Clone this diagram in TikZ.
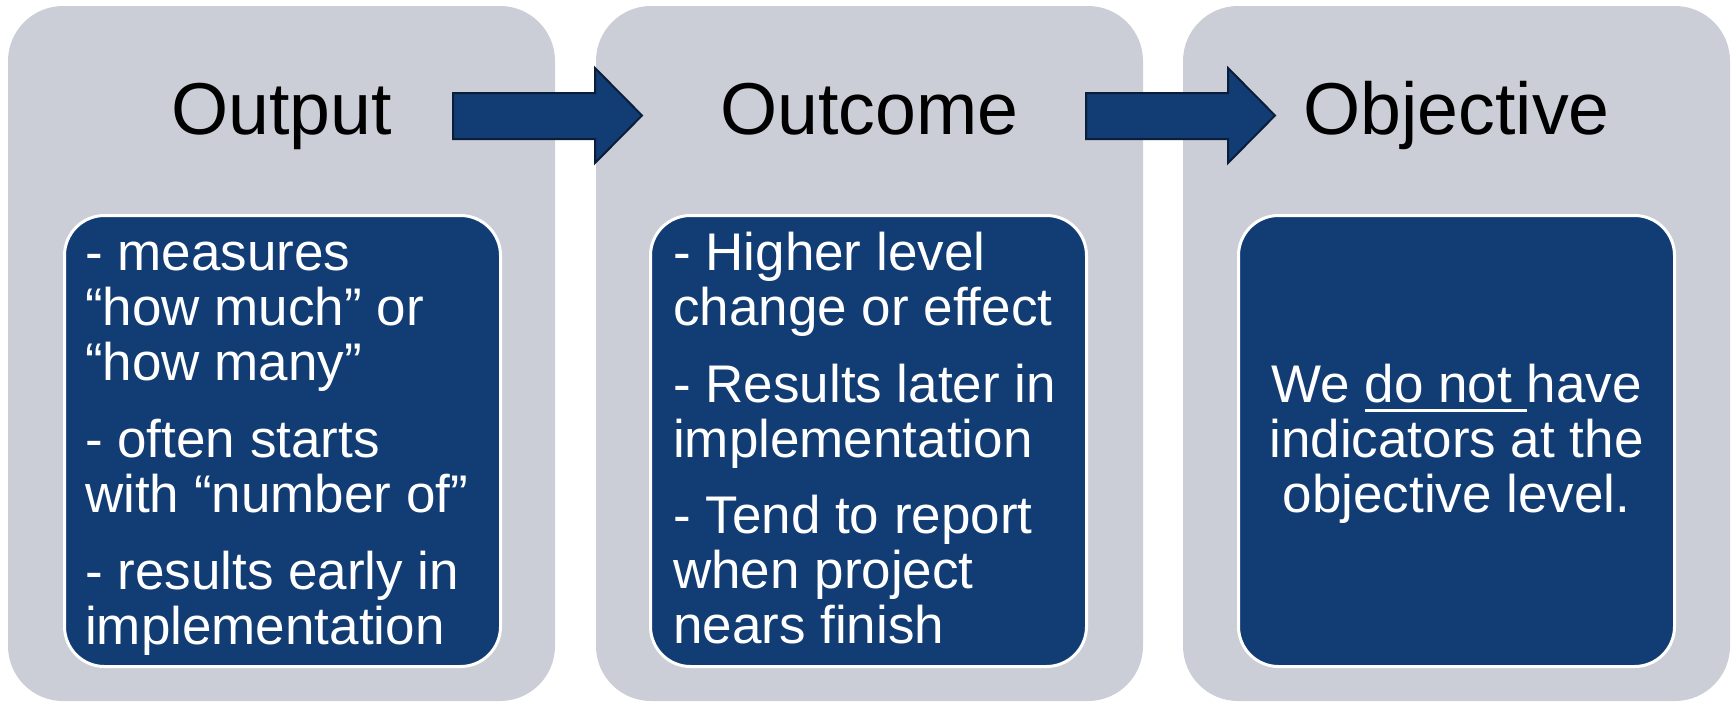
\documentclass[tikz,border=0pt]{standalone}
\usepackage{fontspec}
\setmainfont{Liberation Sans}
\definecolor{panelgrey}{RGB}{203,206,214}
\definecolor{navy}{RGB}{18,60,116}
\definecolor{navyline}{RGB}{10,30,58}
\newcommand\myul[1]{\setbox0\hbox{#1}\rlap{\rule[-9.5pt]{\wd0}{3pt}}\box0}
\begin{document}
\begin{tikzpicture}[x=1pt,y=-1pt,
  panel/.style={fill=panelgrey, draw=none, rounded corners=55pt, minimum width=547pt, minimum height=695pt, inner sep=0pt, outer sep=0pt},
  card/.style={fill=navy, draw=white, line width=3pt, rounded corners=40pt, minimum width=436pt, minimum height=451pt, inner sep=0pt, outer sep=0pt},
  title/.style={anchor=base, inner sep=0pt, font=\fontsize{73.5pt}{80pt}\selectfont},
  body/.style={anchor=base west, inner sep=0pt, text=white, font=\fontsize{53pt}{55pt}\selectfont},
  bodyc/.style={anchor=base, inner sep=0pt, text=white, font=\fontsize{53pt}{55pt}\selectfont},
  blockarrow/.style={fill=navy, draw=navyline, line width=2pt, line join=miter}
]
\useasboundingbox (0,0) rectangle (1733,702);
% panels
\node[panel] (p1) at (281.5,353.5) {};
\node[panel] (p2) at (869.5,353.5) {};
\node[panel] (p3) at (1456.5,353.5) {};
% titles
\node[title] (t1) at (281.5,134) {Output};
\node[title] (t2) at (869.5,134) {Outcome};
\node[title] (t3) at (1456.5,134) {Objective};
% block arrows
\draw[blockarrow] (453,93) -- (595,93) -- (595,68) -- (642,115.5) -- (595,163) -- (595,139) -- (453,139) -- cycle;
\draw[blockarrow] (1086,93) -- (1228,93) -- (1228,68) -- (1275,115.5) -- (1228,163) -- (1228,139) -- (1086,139) -- cycle;
% cards
\node[card] (c1) at (282.5,441) {};
\node[card] (c2) at (868.5,441) {};
\node[card] (c3) at (1456.5,441) {};
% card 1 text
\foreach \yy/\txt [count=\i] in {270/{- measures}, 325/{“how much” or}, 380/{“how many”}, 457/{- often starts}, 512/{with “number of”}, 589/{- results early in}, 644/{implementation}}
  \node[body] (a\i) at (85,\yy) {\txt};
% card 2 text
\foreach \yy/\txt [count=\i] in {270/{- Higher level}, 325/{change or effect}, 402/{- Results later in}, 457/{implementation}, 533/{- Tend to report}, 588/{when project}, 643/{nears finish}}
  \node[body] (b\i) at (673,\yy) {\txt};
% card 3 text
\node[bodyc] (d1) at (1456.5,402) {We \myul{do not\ }have};
\node[bodyc] (d2) at (1456.5,457) {indicators at the};
\node[bodyc] (d3) at (1456.5,512) {objective level.};
\end{tikzpicture}
\end{document}
